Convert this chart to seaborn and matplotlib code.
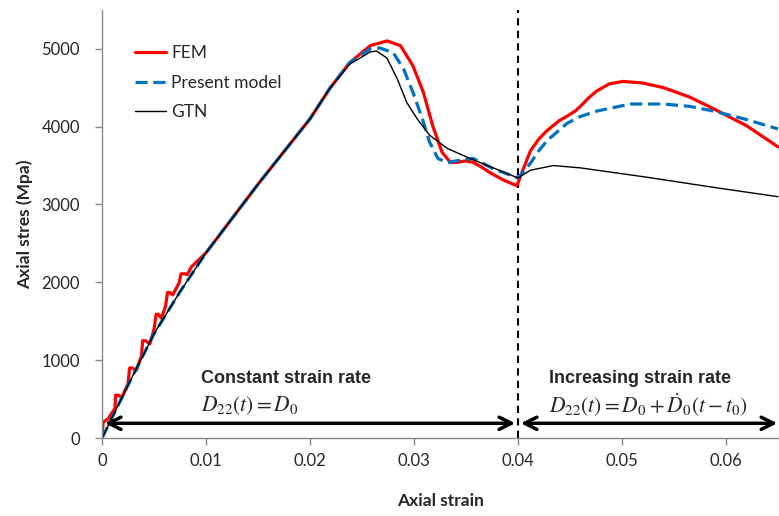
import matplotlib
matplotlib.use("Agg")
import matplotlib.pyplot as plt
import seaborn as sns

# FEM (red)
fem_strain = [0.0, 0.0001, 0.0006, 0.00125, 0.0013, 0.0016, 0.0019, 0.0025, 0.00265, 0.0029,
              0.0033, 0.0038, 0.0039, 0.0042, 0.0046, 0.0050, 0.0052, 0.0054, 0.0057, 0.0061,
              0.0063, 0.0065, 0.0068, 0.0074, 0.0076, 0.0079, 0.0082, 0.0086, 0.0100, 0.0150,
              0.0200, 0.0219, 0.0238, 0.0258, 0.0274, 0.0287, 0.0299, 0.0309, 0.0318, 0.0327,
              0.0335, 0.0341, 0.0350, 0.0357, 0.0365, 0.0373, 0.0385, 0.0399, 0.0402, 0.0412,
              0.0420, 0.0428, 0.0440, 0.0448, 0.0455, 0.0460, 0.0468, 0.0476, 0.0488, 0.0501,
              0.0520, 0.0540, 0.0565, 0.0588, 0.0620, 0.0650]
fem_stress = [20, 200, 250, 385, 550, 550, 520, 700, 900, 900,
              870, 1060, 1250, 1250, 1210, 1400, 1590, 1590, 1540, 1690,
              1870, 1870, 1840, 1990, 2110, 2110, 2100, 2200, 2380, 3260,
              4100, 4490, 4820, 5040, 5100, 5040, 4780, 4440, 4010, 3670,
              3540, 3540, 3560, 3540, 3480, 3410, 3320, 3240, 3350, 3690,
              3840, 3950, 4080, 4140, 4200, 4260, 4370, 4460, 4550, 4580,
              4560, 4500, 4380, 4230, 4010, 3740]

# Present model (blue dashed)
model_strain = [0.0, 0.0025, 0.0050, 0.0075, 0.0100, 0.0150, 0.0200, 0.0219, 0.0238, 0.0258,
                0.0267, 0.0280, 0.0290, 0.0299, 0.0308, 0.0315, 0.0323, 0.0332, 0.0341, 0.0350,
                0.0357, 0.0366, 0.0376, 0.0388, 0.0400, 0.0412, 0.0420, 0.0428, 0.0447, 0.0460,
                0.0476, 0.0508, 0.0540, 0.0565, 0.0588, 0.0620, 0.0650]
model_stress = [0, 680, 1340, 1880, 2380, 3260, 4100, 4490, 4820, 5000,
                5010, 4950, 4740, 4440, 4100, 3800, 3590, 3540, 3560, 3580,
                3590, 3530, 3460, 3400, 3340, 3530, 3690, 3820, 4040, 4130,
                4200, 4290, 4290, 4260, 4200, 4090, 3970]

# GTN (black thin)
gtn_strain = [0.0, 0.0025, 0.0050, 0.0075, 0.0100, 0.0150, 0.0200, 0.0219, 0.0238, 0.0258,
              0.0264, 0.0274, 0.0284, 0.0293, 0.0303, 0.0315, 0.0332, 0.0354, 0.0380, 0.0400,
              0.0412, 0.0434, 0.0460, 0.0524, 0.0588, 0.0650]
gtn_stress = [0, 680, 1340, 1880, 2380, 3260, 4100, 4490, 4800, 4960,
              4970, 4880, 4610, 4310, 4100, 3890, 3720, 3590, 3450, 3340,
              3440, 3500, 3470, 3350, 3220, 3100]

x_ticks = [0, 0.01, 0.02, 0.03, 0.04, 0.05, 0.06]
x_tick_labels = ["0", "0.01", "0.02", "0.03", "0.04", "0.05", "0.06"]
y_ticks = [0, 1000, 2000, 3000, 4000, 5000]

sns.set_style("white")
plt.rcParams["font.family"] = ["Lato", "DejaVu Sans"]
plt.rcParams["mathtext.fontset"] = "stix"

fig = plt.figure(figsize=(7.79, 5.16), dpi=100)
ax = fig.add_axes([0.131, 0.151, 0.869, 0.83])

sns.lineplot(x=fem_strain, y=fem_stress, ax=ax, color="#ff0000", lw=2.3,
             estimator=None, sort=False, label="FEM")
sns.lineplot(x=model_strain, y=model_stress, ax=ax, color="#0070c0", lw=2.3,
             estimator=None, sort=False, label="Present model")
ax.lines[-1].set_dashes([3.8, 1.8])
sns.lineplot(x=gtn_strain, y=gtn_stress, ax=ax, color="black", lw=1.0,
             estimator=None, sort=False, label="GTN")

# switch point between the two loading regimes
ax.axvline(0.04, color="black", lw=1.5, ls=(0, (3.5, 2.5)), zorder=1)

arrow = dict(arrowstyle="<->", color="black", lw=2.5, mutation_scale=22)
ax.annotate("", xy=(0.0, 190), xytext=(0.04, 190), arrowprops=arrow)
ax.annotate("", xy=(0.04, 190), xytext=(0.0652, 190), arrowprops=arrow,
            annotation_clip=False)

bold_font = ["Liberation Sans", "DejaVu Sans"]
ax.text(0.0095, 770, "Constant strain rate", fontsize=13, fontweight="bold",
        va="center", family=bold_font)
ax.text(0.0095, 420, r"$D_{22}(t) = D_0$", fontsize=15.5, va="center")
ax.text(0.0430, 770, "Increasing strain rate", fontsize=13, fontweight="bold",
        va="center", family=bold_font)
ax.text(0.0430, 420, r"$D_{22}(t) = D_0 + \dot{D}_0(t - t_0)$", fontsize=15.5, va="center")

ax.set_xlim(0, 0.0651)
ax.set_ylim(0, 5500)
ax.set_xticks(x_ticks)
ax.set_xticklabels(x_tick_labels)
ax.set_yticks(y_ticks)
ax.tick_params(axis="both", direction="out", length=5, width=1,
               color="#888888", labelsize=12, left=True, bottom=True)
ax.tick_params(axis="y", pad=11)
ax.tick_params(axis="x", pad=6)

sns.despine(ax=ax, top=True, right=True)
for side in ["left", "bottom"]:
    ax.spines[side].set_color("#888888")
    ax.spines[side].set_linewidth(1)

ax.set_xlabel("Axial strain", fontsize=12.5, fontweight="bold", labelpad=17)
ax.set_ylabel("Axial stres (Mpa)", fontsize=12.5, fontweight="bold", labelpad=6)

ax.legend(loc="upper left", bbox_to_anchor=(0.025, 0.955), frameon=False,
          fontsize=12.5, handlelength=1.8, handletextpad=0.3, labelspacing=0.8)

fig.savefig("out.png", dpi=100)
